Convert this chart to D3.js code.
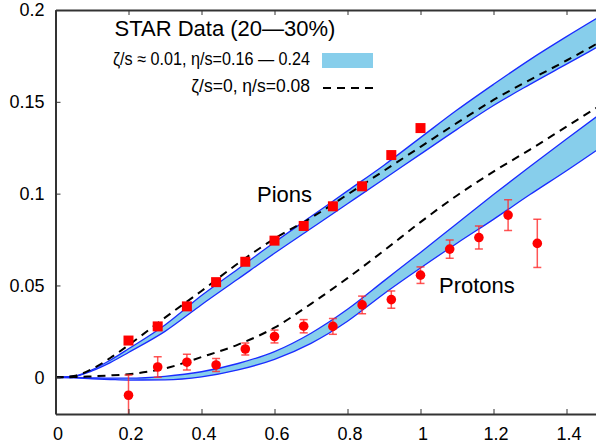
<!DOCTYPE html>
<html>
<head>
<meta charset="utf-8">
<script src="https://cdn.jsdelivr.net/npm/d3@7"></script>
<style>
body { margin: 0; background: #fff; }
text { font-family: "Liberation Sans", Arial, Helvetica, sans-serif; }
</style>
</head>
<body>
<div id="chart"></div>
<script>
// tick values / labels
var xTicks = [0, 0.2, 0.4, 0.6, 0.8, 1, 1.2, 1.4];
var xTickLabels = ["0", "0.2", "0.4", "0.6", "0.8", "1", "1.2", "1.4"];
var yTicks = [0, 0.05, 0.1, 0.15, 0.2];
var yTickLabels = ["0", "0.05", "0.1", "0.15", "0.2"];

// STAR data, pions (squares)
var pionPt = [0.2, 0.28, 0.36, 0.44, 0.52, 0.6, 0.68, 0.76, 0.84, 0.92, 1.0];
var pionV2 = [0.020, 0.0277, 0.0386, 0.0518, 0.0629, 0.0744, 0.0824, 0.0931, 0.104, 0.121, 0.1357];

// STAR data, protons (circles with errors)
var protonPt = [0.2, 0.28, 0.36, 0.44, 0.52, 0.6, 0.68, 0.76, 0.84, 0.92, 1.0, 1.08, 1.16, 1.24, 1.32];
var protonV2 = [-0.0098, 0.0056, 0.0082, 0.0067, 0.0154, 0.0222, 0.0278, 0.0277, 0.0394, 0.0423, 0.0556, 0.0698, 0.0761, 0.0883, 0.0729];
var protonErr = [0.011, 0.0056, 0.0043, 0.0035, 0.0033, 0.0035, 0.0036, 0.0043, 0.0048, 0.0047, 0.0045, 0.005, 0.0063, 0.0084, 0.0131];

// hydro curves
var thPt = [0, 0.05, 0.1, 0.15, 0.2, 0.3, 0.4, 0.5, 0.6, 0.7, 0.8, 0.9, 1.0, 1.1, 1.2, 1.3, 1.4, 1.5];
var pionHi = [0, 0.0006, 0.004, 0.0093, 0.0155, 0.0285, 0.0445, 0.059, 0.0735, 0.0875, 0.1015, 0.1155, 0.1305, 0.1455, 0.1595, 0.173, 0.1855, 0.1975];
var pionLo = [0, 0.0005, 0.0035, 0.008, 0.0135, 0.025, 0.0395, 0.0535, 0.0675, 0.081, 0.0945, 0.108, 0.1215, 0.135, 0.148, 0.1595, 0.1705, 0.1815];
var pionDash = [0, 0.0007, 0.0045, 0.0105, 0.0175, 0.0325, 0.047, 0.062, 0.0755, 0.0868, 0.0995, 0.1125, 0.1255, 0.1385, 0.151, 0.162, 0.1725, 0.1835];
var protHi = [0, -0.0001, -0.0003, -0.0005, -0.0005, 0.0005, 0.003, 0.0075, 0.014, 0.024, 0.037, 0.0525, 0.068, 0.0838, 0.0995, 0.1148, 0.1298, 0.1445];
var protLo = [0, -0.0003, -0.0008, -0.0012, -0.0015, -0.0014, 0.0002, 0.004, 0.0098, 0.0185, 0.0305, 0.0455, 0.0595, 0.073, 0.086, 0.0995, 0.1125, 0.126];
var protDash = [0, 0.0001, 0.0005, 0.001, 0.0017, 0.0048, 0.011, 0.0178, 0.027, 0.040, 0.054, 0.069, 0.0845, 0.099, 0.112, 0.124, 0.1365, 0.149];

var w = 596, h = 446;
var padL = 55.5, padT = 10, padB = 414;

var x = d3.scaleLinear().domain([0, 1.5]).range([padL, padL + 365 * 1.5]);
var y = d3.scaleLinear().domain([-0.02, 0.2]).range([padB, padT]);

var svg = d3.select("#chart")
  .append("svg")
  .attr("width", w)
  .attr("height", h);

svg.append("clipPath")
  .attr("id", "clip")
  .append("rect")
  .attr("x", padL)
  .attr("y", padT)
  .attr("width", w - padL)
  .attr("height", padB - padT);

var plot = svg.append("g").attr("clip-path", "url(#clip)");

function band(hi, lo) {
  var pts = thPt.map(function (d, i) { return [d, lo[i], hi[i]]; });
  var area = d3.area()
    .curve(d3.curveMonotoneX)
    .x(function (d) { return x(d[0]); })
    .y0(function (d) { return y(d[1]); })
    .y1(function (d) { return y(d[2]); });
  plot.append("path")
    .attr("d", area(pts))
    .style("fill", "#87ceeb")
    .style("stroke", "none");
  [1, 2].forEach(function (k) {
    var line = d3.line()
      .curve(d3.curveMonotoneX)
      .x(function (d) { return x(d[0]); })
      .y(function (d) { return y(d[k]); });
    plot.append("path")
      .attr("d", line(pts))
      .style("fill", "none")
      .style("stroke", "#1a2cff")
      .style("stroke-width", 1.3);
  });
}

function dashed(vals) {
  var line = d3.line()
    .curve(d3.curveMonotoneX)
    .x(function (d) { return x(d); })
    .y(function (d, i) { return y(vals[i]); });
  plot.append("path")
    .attr("d", line(thPt))
    .style("fill", "none")
    .style("stroke", "#000")
    .style("stroke-width", 2)
    .style("stroke-dasharray", "8,6");
}

band(pionHi, pionLo);
band(protHi, protLo);
dashed(pionDash);
dashed(protDash);

// proton error bars
var eb = plot.append("g")
  .style("stroke", "#ff2a2a")
  .style("stroke-opacity", 0.8)
  .style("stroke-width", 1.5);

protonPt.forEach(function (p, i) {
  var cx = x(p), y1 = y(protonV2[i] + protonErr[i]), y2 = y(protonV2[i] - protonErr[i]);
  eb.append("line").attr("x1", cx).attr("x2", cx).attr("y1", y1).attr("y2", y2);
  eb.append("line").attr("x1", cx - 4).attr("x2", cx + 4).attr("y1", y1).attr("y2", y1);
  eb.append("line").attr("x1", cx - 4).attr("x2", cx + 4).attr("y1", y2).attr("y2", y2);
});

plot.selectAll(".prot")
  .data(protonPt)
  .enter()
  .append("circle")
  .attr("cx", function (d) { return x(d); })
  .attr("cy", function (d, i) { return y(protonV2[i]); })
  .attr("r", 4.8)
  .style("fill", "#ff0000");

plot.selectAll(".pion")
  .data(pionPt)
  .enter()
  .append("rect")
  .attr("x", function (d) { return x(d) - 5; })
  .attr("y", function (d, i) { return y(pionV2[i]) - 5; })
  .attr("width", 10)
  .attr("height", 10)
  .style("fill", "#ff0000");

// axes
var xb = svg.append("g")
  .attr("transform", "translate(0," + padB + ")")
  .call(d3.axisBottom(x).tickValues(xTicks).tickSize(-5).tickSizeOuter(0).tickPadding(13)
    .tickFormat(function (d, i) { return xTickLabels[i]; }));
xb.selectAll("text").attr("dx", 2);

var xt = svg.append("g")
  .attr("transform", "translate(0," + padT + ")")
  .call(d3.axisTop(x).tickValues(xTicks).tickSize(-5).tickSizeOuter(0).tickFormat(""));

var yl = svg.append("g")
  .attr("transform", "translate(" + padL + ",0)")
  .call(d3.axisLeft(y).tickValues(yTicks).tickSize(-5).tickSizeOuter(0).tickPadding(11)
    .tickFormat(function (d, i) { return yTickLabels[i]; }));

[xb, xt, yl].forEach(function (g) {
  g.attr("font-family", null).attr("font-size", null);
  g.select(".domain").style("stroke", "#333").style("stroke-width", 2);
  g.selectAll(".tick line").style("stroke", "#333").style("stroke-width", 1);
  g.selectAll("text").style("font-size", "18px").style("fill", "#000");
});

// legend
svg.append("text")
  .attr("x", 225)
  .attr("y", 36)
  .attr("text-anchor", "middle")
  .style("font-size", "22px")
  .text("STAR Data (20\u201430%)");

svg.append("text")
  .attr("x", 113)
  .attr("y", 65)
  .attr("textLength", 197)
  .attr("lengthAdjust", "spacingAndGlyphs")
  .style("font-size", "17.5px")
  .text("\u03b6/s \u2248 0.01, \u03b7/s=0.16 \u2014 0.24");

svg.append("rect")
  .attr("x", 322)
  .attr("y", 53)
  .attr("width", 51)
  .attr("height", 15)
  .style("fill", "#87ceeb");

svg.append("text")
  .attr("x", 310)
  .attr("y", 92)
  .attr("text-anchor", "end")
  .style("font-size", "17.5px")
  .text("\u03b6/s=0, \u03b7/s=0.08");

svg.append("line")
  .attr("x1", 323)
  .attr("x2", 373)
  .attr("y1", 88)
  .attr("y2", 88)
  .style("stroke", "#000")
  .style("stroke-width", 2)
  .style("stroke-dasharray", "8,6");

svg.append("text")
  .attr("x", 257)
  .attr("y", 202)
  .style("font-size", "22px")
  .text("Pions");

svg.append("text")
  .attr("x", 439)
  .attr("y", 293)
  .style("font-size", "22px")
  .text("Protons");
</script>
</body>
</html>
